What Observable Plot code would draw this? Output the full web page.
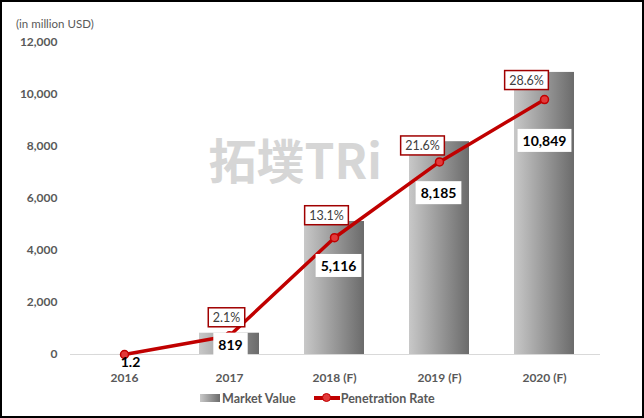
<!DOCTYPE html>
<html><head><meta charset="utf-8">
<script src="https://cdn.jsdelivr.net/npm/d3@7"></script>
<script src="https://cdn.jsdelivr.net/npm/@observablehq/plot@0.6"></script>
<style>
body{margin:0;background:#fff;}
#frame{position:relative;width:644px;height:418px;box-sizing:border-box;border:2px solid #000;font-family:Lato,"Open Sans",sans-serif;overflow:hidden;background:#fff}
#sub{height:28px;line-height:14px;padding:15px 0 0 14px;box-sizing:border-box;font-size:11.5px;color:#595959}
#chart svg{display:block}
#legend{position:absolute;left:198px;top:388px;height:16px;display:flex;align-items:center;font-size:12.5px;font-weight:bold;color:#595959}
.sw{width:20px;height:8px;background:linear-gradient(to right,#c8c8c8,#6b6b6b);margin-right:2px}
.ln{position:relative;width:26px;height:16px;margin-left:18px;margin-right:1px}
.ln::before{content:"";position:absolute;left:0;right:0;top:6px;height:4px;background:#c00000}
.ln::after{content:"";position:absolute;left:8px;top:3px;width:7px;height:7px;border-radius:50%;background:#e23a3a;border:1.5px solid #c00000}
</style></head>
<body>
<div id="frame">
  <div id="sub">(in million USD)</div>
  <div id="chart"></div>
  <div id="legend"><div class="sw"></div><span>Market Value</span><div class="ln"></div><span>Penetration Rate</span></div>
</div>
<script>
const years = ["2016", "2017", "2018 (F)", "2019 (F)", "2020 (F)"];
const marketValue = [1.2, 819, 5116, 8185, 10849];
const marketLabels = ["1.2", "819", "5,116", "8,185", "10,849"];
const penetration = [0.0, 2.1, 13.1, 21.6, 28.6];
const penLabels = ["", "2.1%", "13.1%", "21.6%", "28.6%"];
const yTicks = [0, 2000, 4000, 6000, 8000, 10000, 12000];
const yMax = 12000;
const penMax = 35; // secondary axis maximum (%)

const data = years.map((year, i) => ({
  year, value: marketValue[i], label: marketLabels[i],
  pen: penetration[i], penY: penetration[i] / penMax * yMax, penLabel: penLabels[i]
}));

// manual label placements (dx, dy in px), like hand-moved Excel labels
const mvOffsets = [[6, 8], [1, 12], [4, 45], [-1, 52], [0, 69]];
const penOffsets = [[0, 0], [-3, -18], [-8, -22], [-17, -16], [-18, -19]];

const marks = [
  Plot.text(["拓墣TRi"], {frameAnchor: "left", textAnchor: "start", dx: 160, dy: -35,
    fontSize: 48, fontWeight: "bold", fill: "#d6d6d6", letterSpacing: 2,
    fontFamily: "'Noto Sans CJK SC', sans-serif"}),
  Plot.ruleY([0], {stroke: "#d9d9d9", strokeWidth: 1, insetLeft: 22, insetRight: 19}),
  Plot.barY(data, {x: "year", y: "value", fill: "url(#barGrad)"}),
  Plot.axisY({ticks: yTicks, tickFormat: d3.format(","), tickSize: 0, tickPadding: 0, dx: 9,
    label: null, fontSize: 12, fontWeight: "bold", fill: "#595959", fontFamily: "Lato"}),
  Plot.axisX({tickSize: 0, tickPadding: 19, label: null, fontSize: 12, fontWeight: "bold",
    fill: "#595959", fontFamily: "Lato"}),
  Plot.line(data, {x: "year", y: "penY", stroke: "#c00000", strokeWidth: 3.5}),
  Plot.dot(data, {x: "year", y: "penY", r: 4, fill: "#e23a3a", stroke: "#c00000", strokeWidth: 1.5})
];
data.forEach((d, i) => {
  marks.push(Plot.text([d], {x: "year", y: "value", text: "label", dx: mvOffsets[i][0], dy: mvOffsets[i][1],
    fontSize: 14, fontWeight: "bold", fill: "#000", fontFamily: "Lato"}));
  if (d.penLabel) marks.push(Plot.text([d], {x: "year", y: "penY", text: "penLabel", dx: penOffsets[i][0], dy: penOffsets[i][1],
    fontSize: 12.5, fill: "#404040", fontFamily: "Lato"}));
});

const svg = Plot.plot({
  width: 640, height: 360,
  marginTop: 12, marginBottom: 36, marginLeft: 46, marginRight: 23,
  x: {domain: years, padding: 0.43},
  y: {domain: [0, yMax]},
  style: {fontFamily: "Lato, sans-serif", background: "transparent"},
  marks
});
document.getElementById("chart").appendChild(svg);

const ns = "http://www.w3.org/2000/svg";
const defs = document.createElementNS(ns, "defs");
defs.innerHTML = '<linearGradient id="barGrad" x1="0" x2="1" y1="0" y2="0"><stop offset="0" stop-color="#c8c8c8"/><stop offset="1" stop-color="#6b6b6b"/></linearGradient>';
svg.insertBefore(defs, svg.firstChild);

const mvBoxed = new Set(marketLabels.slice(1));
const penBoxed = new Set(penLabels.filter(Boolean));
svg.querySelectorAll("text").forEach(t => {
  const s = t.textContent;
  let px, py, stroke = null;
  if (mvBoxed.has(s)) { px = 5; py = 3; }
  else if (penBoxed.has(s)) { px = 4.5; py = 2; stroke = "#a00000"; }
  else return;
  const b = t.getBBox();
  const r = document.createElementNS(ns, "rect");
  r.setAttribute("x", b.x - px); r.setAttribute("y", b.y - py);
  r.setAttribute("width", b.width + 2 * px); r.setAttribute("height", b.height + 2 * py);
  r.setAttribute("fill", "#fff");
  const tr = t.getAttribute("transform");
  if (tr) r.setAttribute("transform", tr);
  if (stroke) { r.setAttribute("stroke", stroke); r.setAttribute("stroke-width", 1.5); }
  t.parentNode.insertBefore(r, t);
});
</script>
</body></html>
